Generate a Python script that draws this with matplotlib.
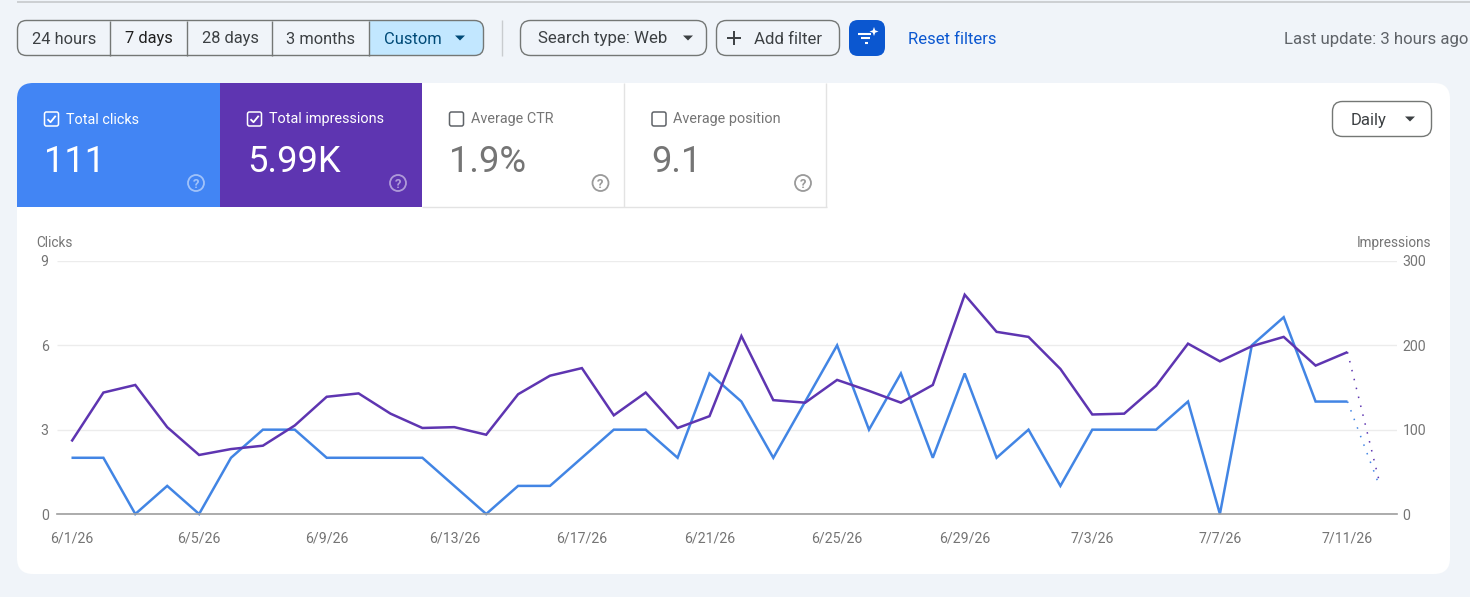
import numpy as np
import matplotlib
matplotlib.use("Agg")
import matplotlib.pyplot as plt
from matplotlib.patches import FancyBboxPatch, Rectangle, Polygon, Circle

plt.rcParams['font.family'] = ['Roboto', 'DejaVu Sans']
plt.rcParams['lines.solid_capstyle'] = 'butt'

# daily values, 6/1/26 to 7/12/26
clicks = [2, 2, 0, 1, 0, 2, 3, 3, 2, 2, 2, 2, 1, 0, 1, 1, 2, 3, 3, 2, 5,
          4, 2, 4, 6, 3, 5, 2, 5, 2, 3, 1, 3, 3, 3, 4, 0, 6, 7, 4, 4, 1]
impressions = [86, 144, 153, 103, 70, 77, 81, 105, 139, 143, 119, 102, 103, 94,
               142, 164, 173, 117, 144, 102, 116, 211, 135, 132, 159, 146, 132,
               153, 260, 216, 210, 172, 118, 119, 152, 202, 181, 199, 210, 176,
               192, 38]
x_labels = ['6/1/26', '6/5/26', '6/9/26', '6/13/26', '6/17/26', '6/21/26',
            '6/25/26', '6/29/26', '7/3/26', '7/7/26', '7/11/26']
x_label_days = [0, 4, 8, 12, 16, 20, 24, 28, 32, 36, 40]
clicks_ticks = [0, 3, 6, 9]
impressions_ticks = [0, 100, 200, 300]

presets = ['24 hours', '7 days', '28 days', '3 months']
metrics = ['Total clicks', 'Total impressions', 'Average CTR', 'Average position']
metric_values = ['111', '5.99K', '1.9%', '9.1']

BG = '#f0f4f9'
BLUE = '#4285f4'
LINE_BLUE = '#4285e4'
PURPLE = '#5e35b1'
INK = '#3c4043'
GREY = '#757575'
EDGE = '#747775'
W, H = 1470, 597

fig = plt.figure(figsize=(W / 100, H / 100), dpi=100, facecolor=BG)

# page layer in pixel coordinates
ui = fig.add_axes([0, 0, 1, 1])
ui.set_xlim(0, W)
ui.set_ylim(H, 0)
ui.axis('off')


def round_box(x0, y0, x1, y1, r, fc='none', ec='none', lw=1.0, z=2):
    box = FancyBboxPatch((x0, y0), x1 - x0, y1 - y0,
                         boxstyle=f'round,pad=0,rounding_size={r}',
                         fc=fc, ec=ec, lw=lw, zorder=z)
    ui.add_patch(box)
    return box


def label(x, y, s, size=11, color=INK, ha='left', **kw):
    # center_baseline keeps descenders from shifting neighbouring labels
    return ui.text(x, y, s, fontsize=size, color=color, ha=ha, va='center_baseline', zorder=6, **kw)


def caret(x, y, color=INK):
    ui.add_patch(Polygon([(x - 5, y - 2.5), (x + 5, y - 2.5), (x, y + 2.5)],
                         closed=True, fc=color, ec='none', zorder=6))


def checkbox(x, y, color, checked):
    round_box(x, y, x + 14, y + 14, 2, ec=color, lw=1.1, z=6)
    if checked:
        ui.plot([x + 3, x + 6, x + 11.2], [y + 7.2, y + 10.2, y + 3.8], color=color, lw=1.3, zorder=6)


def help_icon(x, y, color):
    ui.add_patch(Circle((x, y), 8, fc='none', ec=color, lw=1.3, zorder=6))
    label(x, y, '?', size=9.5, color=color, ha='center', fontweight='bold')


# top rule
ui.plot([17, W], [1.5, 1.5], color='#c7c9cc', lw=1.2, zorder=1)

# date range segmented control
group = round_box(17.5, 20.5, 483.5, 55.5, 9, ec=EDGE, lw=1.0, z=4)
custom = Rectangle((369, 20), 115, 36, fc='#c2e7ff', ec='none', zorder=2)
ui.add_patch(custom)
custom.set_clip_path(group)
for sep in [110.5, 187.5, 272.5, 369.5]:
    ui.plot([sep, sep], [20.5, 55.5], color=EDGE, lw=1.0, zorder=4)
for center, text, col in zip([64, 149, 230, 321], presets, [INK, '#1f1f1f', INK, INK]):
    label(center, 37.5, text, size=11.8, color=col, ha='center')
label(384, 37.5, 'Custom', size=11.9, color='#004a77')
caret(460, 38, '#004a77')

ui.plot([502.5, 502.5], [20, 56], color='#c9cccf', lw=1.0)

# filter buttons
round_box(520.5, 20.5, 706.5, 55.5, 10, ec=EDGE)
label(538, 37.5, 'Search type: Web', size=12.2)
caret(688, 38)
round_box(716.5, 20.5, 839.5, 55.5, 10, ec=EDGE)
ui.plot([727, 741], [38, 38], color=INK, lw=1.4, zorder=6)
ui.plot([734, 734], [31, 45], color=INK, lw=1.4, zorder=6)
label(754, 37.5, 'Add filter', size=12.1)

round_box(849, 20, 885, 56, 9, fc='#0b57d0')
for x0, x1, yy in [(858, 871, 33.5), (861, 870, 38), (865, 868, 42.5)]:
    ui.plot([x0, x1], [yy, yy], color='white', lw=1.5, zorder=6)
ui.add_patch(Polygon([(874, 27), (875.2, 30.3), (878.5, 31.5), (875.2, 32.7),
                      (874, 36), (872.8, 32.7), (869.5, 31.5), (872.8, 30.3)],
                     closed=True, fc='white', ec='none', zorder=6))

label(908, 37.5, 'Reset filters', size=12, color='#0b57d0')
label(1468, 38, 'Last update: 3 hours ago', size=12.1, color='#5f6368', ha='right')

# main card
card = round_box(17, 83, 1450, 574, 16, fc='white', z=1)

# metric tiles
tiles = [(17, 220, BLUE), (220, 422, PURPLE), (422, 624.5, 'white'), (624.5, 827, 'white')]
for (x0, x1, fc), name, value in zip(tiles, metrics, metric_values):
    tile = Rectangle((x0, 83), x1 - x0, 124, fc=fc, ec='none', zorder=2)
    ui.add_patch(tile)
    tile.set_clip_path(card)
    on = fc != 'white'
    txt = 'white' if on else GREY
    checkbox(x0 + 27.5, 112, 'white' if on else '#5f6368', on)
    label(x0 + 49, 118, name, size=10.4, color=txt)
    label(x0 + 27, 157.5, value, size=26.2, color=txt)
    help_icon(x1 - 24, 183, '#ffffff80' if on else '#9a9a9a')
for xx in [624.5, 826.5]:
    ui.plot([xx, xx], [83, 207], color='#e3e3e3', lw=1.0, zorder=3)
ui.plot([422, 827], [206.5, 206.5], color='#e3e3e3', lw=1.0, zorder=3)

# Daily dropdown
round_box(1332.5, 101.5, 1431.5, 136.5, 10, ec=EDGE)
label(1351, 118.5, 'Daily', size=12)
caret(1410, 119)

label(36, 241.5, 'Clicks', size=9.8, color=GREY)
label(1431, 241.5, 'Impressions', size=9.8, color=GREY, ha='right')

# chart: 6/1 sits at x=71.5 px, one day is 31.9 px wide
left, right, top, bottom = 57, 1397, 261, 514
ax = fig.add_axes([left / W, 1 - bottom / H, (right - left) / W, (bottom - top) / H])
ax.patch.set_alpha(0)
ax.set_xlim((left - 71.5) / 31.9, (right - 71.5) / 31.9)
ax.set_ylim(0, 9)
ax2 = ax.twinx()
ax2.set_ylim(0, 300)
ax2.patch.set_alpha(0)

for a in (ax, ax2):
    for name, sp in a.spines.items():
        sp.set_visible(False)
    a.tick_params(length=0, labelsize=10.2, labelcolor=GREY)

ax.spines['bottom'].set_visible(True)
ax.spines['bottom'].set_color('#9e9e9e')
ax.spines['bottom'].set_linewidth(1.2)
ax.set_yticks(clicks_ticks)
ax.set_yticklabels([str(v) for v in clicks_ticks])
ax.tick_params(axis='y', pad=6)
ax.grid(axis='y', color='#ececec', lw=1.0)
ax.set_axisbelow(True)
ax.set_xticks(x_label_days)
ax.set_xticklabels(x_labels)
ax.tick_params(axis='x', pad=12.5)
ax2.set_yticks(impressions_ticks)
ax2.set_yticklabels([str(v) for v in impressions_ticks])
ax2.tick_params(axis='y', pad=4)

days = np.arange(len(clicks))
# last day is still partial, so its segment is dotted
ax.plot(days[:-1], clicks[:-1], color=LINE_BLUE, lw=1.8, clip_on=False, solid_joinstyle='miter')
ax.plot(days[-2:], clicks[-2:], color=LINE_BLUE, lw=1.1, ls=(0, (1, 5)), clip_on=False)
ax2.plot(days[:-1], impressions[:-1], color=PURPLE, lw=1.8, solid_joinstyle='miter')
ax2.plot(days[-2:], impressions[-2:], color=PURPLE, lw=1.1, ls=(0, (1, 5)))

fig.savefig('out.png', dpi=100, facecolor=BG)
